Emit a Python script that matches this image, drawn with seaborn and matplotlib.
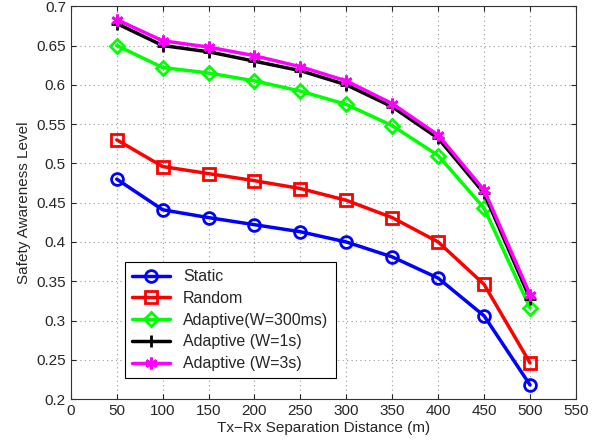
import matplotlib
matplotlib.use('Agg')
import matplotlib.pyplot as plt
import numpy as np
import seaborn as sns

distance = [50, 100, 150, 200, 250, 300, 350, 400, 450, 500]

static = [0.480, 0.441, 0.431, 0.422, 0.413, 0.400, 0.381, 0.354, 0.306, 0.218]
random_ = [0.530, 0.496, 0.487, 0.478, 0.468, 0.453, 0.431, 0.400, 0.346, 0.246]
adaptive_300ms = [0.650, 0.622, 0.615, 0.605, 0.592, 0.575, 0.548, 0.510, 0.443, 0.316]
adaptive_1s = [0.678, 0.650, 0.642, 0.630, 0.618, 0.600, 0.572, 0.532, 0.462, 0.328]
adaptive_3s = [0.683, 0.656, 0.648, 0.637, 0.623, 0.605, 0.576, 0.536, 0.466, 0.333]

series = [
    ('Static', static, '#0000ff', 'o'),
    ('Random', random_, '#ff0000', 's'),
    ('Adaptive(W=300ms)', adaptive_300ms, '#00ff00', 'D'),
    ('Adaptive (W=1s)', adaptive_1s, '#000000', '+'),
    ('Adaptive (W=3s)', adaptive_3s, '#ff00ff', (6, 2, 0)),
]

sns.set_style('ticks')
plt.rcParams['font.family'] = ['Liberation Sans', 'DejaVu Sans']
plt.rcParams['font.size'] = 11

fig = plt.figure(figsize=(6.05, 4.44), dpi=100)
ax = fig.add_axes([0.117, 0.101, 0.835, 0.885])

for name, vals, color, marker in series:
    sns.lineplot(x=distance, y=vals, ax=ax, color=color, linewidth=2.5,
                 marker=marker, markersize=8.5 if marker != 'D' else 7,
                 markerfacecolor='none', markeredgecolor=color,
                 markeredgewidth=2, label=name)

ax.set_xlim(0, 550)
ax.set_ylim(0.2, 0.7)
ax.set_xticks(np.arange(0, 551, 50))
ax.set_yticks(np.arange(0.2, 0.71, 0.05))
ax.set_yticklabels(['0.2', '0.25', '0.3', '0.35', '0.4', '0.45', '0.5',
                    '0.55', '0.6', '0.65', '0.7'])
ax.grid(True, linestyle=(0, (1, 3)), color='#999999', linewidth=0.8)
ax.tick_params(direction='in', top=True, right=True, labelsize=11)
for sp in ax.spines.values():
    sp.set_color('#333333')
    sp.set_visible(True)

ax.set_xlabel('Tx\u2212Rx Separation Distance (m)', fontsize=11, labelpad=2)
ax.set_ylabel('Safety Awareness Level', fontsize=11)

leg = ax.legend(loc='lower left', bbox_to_anchor=(0.107, 0.053),
                borderaxespad=0, fancybox=False, edgecolor='black',
                framealpha=1, fontsize=11.5, handlelength=2.4,
                borderpad=0.45, labelspacing=0.42)
leg.get_frame().set_linewidth(0.8)

fig.savefig('out.png', dpi=100)
